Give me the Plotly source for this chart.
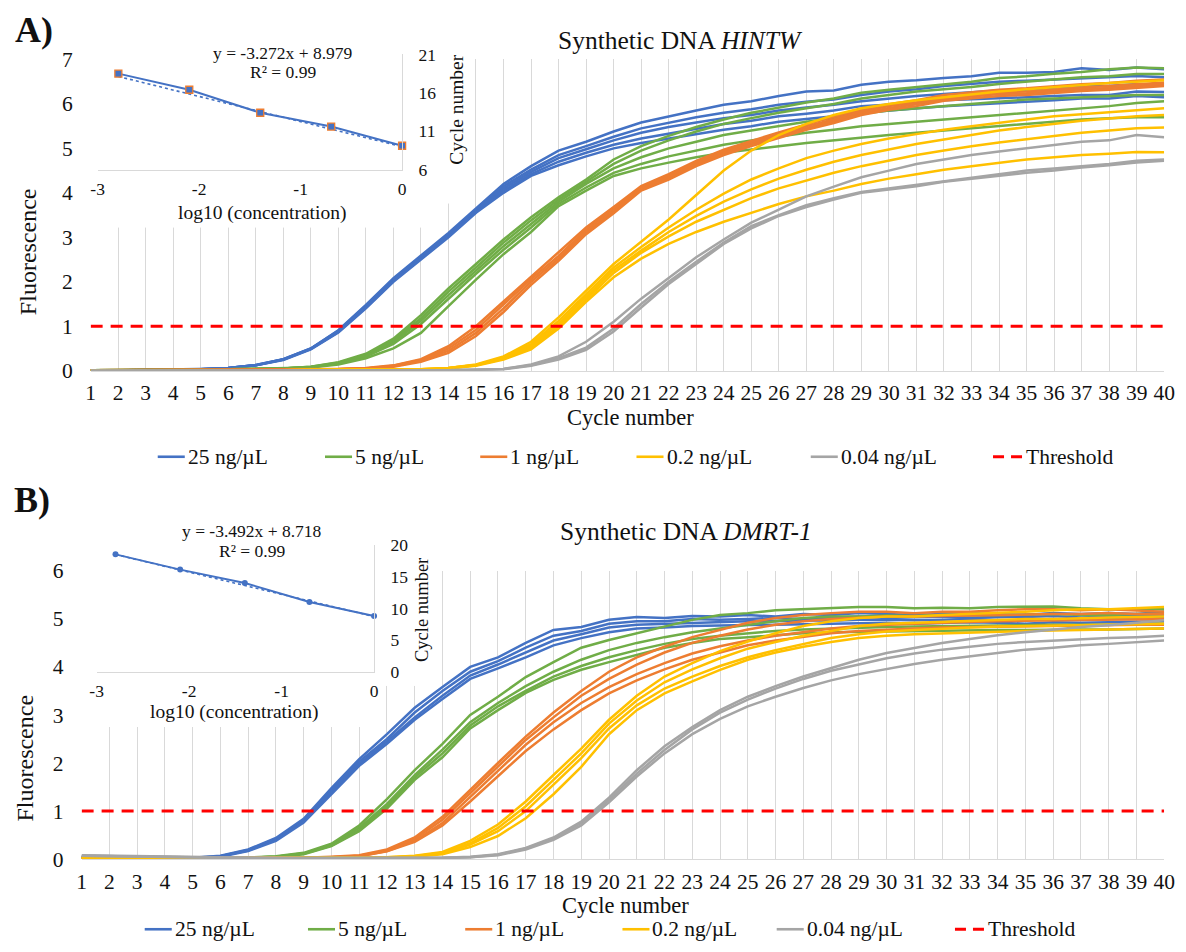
import numpy as np
import plotly.graph_objects as go

W, H = 1186, 952
FONT = "Liberation Serif, Times New Roman, DejaVu Serif, serif"
TXT = "#111111"

# ---------------- data ----------------
cycles = list(range(1, 41))
concentrations = [25, 5, 1, 0.2, 0.04]
series_names = ["25 ng/µL", "5 ng/µL", "1 ng/µL", "0.2 ng/µL", "0.04 ng/µL"]
series_colors = ["#4472C4", "#70AD47", "#ED7D31", "#FFC000", "#A5A5A5"]
threshold = 1.0

# Panel A  (Synthetic DNA HINTW) - fluorescence per cycle, replicates
a25_1 = [0.00,0.01,0.01,0.02,0.03,0.06,0.13,0.26,0.50,0.91, 1.48,2.08,2.60,3.10,3.65, 4.20,4.60,4.95,5.15,5.38, 5.58,5.72,5.85,5.98,6.06, 6.18,6.28,6.30,6.43,6.50, 6.53,6.58,6.62,6.70,6.70, 6.72,6.80,6.76,6.82,6.78]
a25_2 = [0.00,0.01,0.01,0.02,0.03,0.06,0.13,0.26,0.50,0.90, 1.46,2.06,2.57,3.07,3.62, 4.15,4.52,4.85,5.05,5.26, 5.45,5.58,5.70,5.80,5.88, 5.98,6.05,6.10,6.20,6.28, 6.33,6.40,6.45,6.50,6.52, 6.55,6.58,6.60,6.63,6.60]
a25_3 = [0.00,0.01,0.01,0.02,0.03,0.06,0.12,0.25,0.49,0.88, 1.44,2.04,2.55,3.05,3.60, 4.10,4.47,4.78,4.98,5.18, 5.35,5.48,5.58,5.68,5.75, 5.85,5.92,5.98,6.06,6.12, 6.18,6.22,6.26,6.30,6.32, 6.35,6.40,6.40,6.45,6.43]
a25_4 = [0.00,0.01,0.01,0.02,0.03,0.06,0.12,0.25,0.49,0.87, 1.42,2.02,2.52,3.02,3.57, 4.05,4.42,4.70,4.90,5.08, 5.22,5.33,5.44,5.55,5.62, 5.72,5.78,5.85,5.95,5.98, 6.02,6.08,6.10,6.12,6.15, 6.18,6.20,6.20,6.28,6.27]
a25_5 = [0.00,0.01,0.01,0.02,0.03,0.05,0.12,0.24,0.48,0.86, 1.40,2.00,2.50,3.00,3.55, 4.00,4.38,4.62,4.82,5.00, 5.12,5.22,5.32,5.42,5.50, 5.60,5.66,5.72,5.80,5.85, 5.90,5.95,5.98,6.02,6.05, 6.08,6.12,6.12,6.18,6.15]

a5_1 = [0.01,0.01,0.02,0.02,0.02,0.03,0.04,0.05,0.09,0.19, 0.38,0.72,1.25,1.85,2.40, 2.95,3.45,3.90,4.30,4.75, 5.05,5.28,5.48,5.65,5.80, 5.92,6.03,6.12,6.25,6.32, 6.38,6.45,6.50,6.58,6.62, 6.68,6.72,6.78,6.82,6.80]
a5_2 = [0.01,0.01,0.02,0.02,0.02,0.03,0.04,0.05,0.09,0.18, 0.36,0.68,1.18,1.78,2.32, 2.88,3.38,3.85,4.25,4.65, 4.95,5.18,5.38,5.55,5.68, 5.80,5.90,6.00,6.12,6.20, 6.28,6.33,6.38,6.45,6.50, 6.55,6.60,6.62,6.67,6.67]
a5_3 = [0.01,0.01,0.02,0.02,0.02,0.03,0.04,0.05,0.08,0.17, 0.34,0.64,1.12,1.70,2.25, 2.80,3.30,3.80,4.20,4.55, 4.80,5.00,5.15,5.30,5.40, 5.50,5.60,5.68,5.78,5.85, 5.90,5.95,6.00,6.05,6.10, 6.12,6.15,6.18,6.20,6.20]
a5_4 = [0.01,0.01,0.02,0.02,0.02,0.03,0.04,0.05,0.08,0.16, 0.32,0.60,1.05,1.62,2.18, 2.72,3.22,3.75,4.12,4.45, 4.65,4.82,4.95,5.08,5.18, 5.27,5.35,5.42,5.50,5.55, 5.60,5.65,5.70,5.75,5.80, 5.85,5.90,5.95,6.02,6.06]
a5_5 = [0.01,0.01,0.02,0.02,0.02,0.03,0.04,0.05,0.07,0.14, 0.28,0.50,0.85,1.45,2.05, 2.62,3.12,3.70,4.05,4.38, 4.55,4.68,4.80,4.90,4.98, 5.05,5.12,5.18,5.25,5.30, 5.35,5.40,5.45,5.50,5.55, 5.60,5.65,5.68,5.70,5.70]

a1_1 = [0.01,0.01,0.01,0.02,0.02,0.02,0.02,0.03,0.03,0.04, 0.06,0.12,0.26,0.55,1.00, 1.55,2.12,2.65,3.22,3.68, 4.15,4.42,4.72,4.97,5.17, 5.36,5.54,5.70,5.87,5.99, 6.08,6.20,6.26,6.32,6.35, 6.40,6.44,6.47,6.52,6.55]
a1_2 = [0.01,0.01,0.01,0.02,0.02,0.02,0.02,0.03,0.03,0.04, 0.05,0.11,0.24,0.50,0.92, 1.48,2.06,2.58,3.17,3.63, 4.12,4.38,4.68,4.93,5.13, 5.32,5.50,5.65,5.83,5.95, 6.03,6.15,6.20,6.26,6.28, 6.33,6.37,6.40,6.44,6.48]
a1_3 = [0.01,0.01,0.01,0.01,0.02,0.02,0.02,0.02,0.03,0.03, 0.05,0.10,0.22,0.45,0.85, 1.40,2.00,2.52,3.12,3.58, 4.08,4.34,4.64,4.89,5.09, 5.28,5.46,5.61,5.79,5.91, 5.99,6.11,6.16,6.22,6.24, 6.29,6.33,6.36,6.40,6.44]
a1_4 = [0.01,0.01,0.01,0.01,0.02,0.02,0.02,0.02,0.03,0.03, 0.05,0.09,0.20,0.40,0.78, 1.32,1.93,2.47,3.07,3.54, 4.05,4.30,4.60,4.85,5.05, 5.24,5.42,5.57,5.75,5.87, 5.95,6.07,6.12,6.18,6.20, 6.25,6.29,6.32,6.36,6.40]

a02_1 = [0.00,0.00,0.01,0.01,0.01,0.01,0.01,0.01,0.02,0.02, 0.02,0.02,0.03,0.06,0.14, 0.32,0.65,1.20,1.80,2.40, 2.90,3.40,3.95,4.50,4.95, 5.30,5.55,5.75,5.90,6.00, 6.08,6.15,6.22,6.28,6.33, 6.38,6.42,6.47,6.50,6.53]
a02_2 = [0.00,0.00,0.01,0.01,0.01,0.01,0.01,0.01,0.02,0.02, 0.02,0.02,0.03,0.06,0.13, 0.30,0.60,1.12,1.72,2.32, 2.78,3.22,3.62,3.98,4.30, 4.55,4.78,4.95,5.10,5.22, 5.32,5.42,5.50,5.58,5.65, 5.72,5.77,5.82,5.86,5.90]
a02_3 = [0.00,0.00,0.01,0.01,0.01,0.01,0.01,0.01,0.02,0.02, 0.02,0.02,0.03,0.06,0.13, 0.28,0.56,1.06,1.66,2.26, 2.70,3.12,3.48,3.80,4.08, 4.32,4.52,4.70,4.85,4.98, 5.10,5.20,5.30,5.40,5.48, 5.55,5.62,5.67,5.72,5.75]
a02_4 = [0.00,0.00,0.00,0.01,0.01,0.01,0.01,0.01,0.01,0.02, 0.02,0.02,0.02,0.05,0.12, 0.27,0.52,1.00,1.60,2.20, 2.65,3.02,3.35,3.62,3.88, 4.10,4.28,4.45,4.60,4.72, 4.85,4.95,5.05,5.13,5.20, 5.28,5.35,5.40,5.45,5.47]
a02_5 = [0.00,0.00,0.00,0.01,0.01,0.01,0.01,0.01,0.01,0.02, 0.02,0.02,0.02,0.05,0.11, 0.25,0.48,0.95,1.55,2.10, 2.52,2.85,3.12,3.35,3.55, 3.75,3.92,4.05,4.20,4.32, 4.42,4.52,4.60,4.68,4.75, 4.80,4.85,4.88,4.92,4.91]

a004_1 = [0.00,0.00,0.00,0.00,0.01,0.01,0.01,0.01,0.01,0.01, 0.01,0.01,0.01,0.01,0.02, 0.04,0.14,0.32,0.65,1.10, 1.62,2.08,2.55,2.95,3.33, 3.62,3.92,4.14,4.35,4.50, 4.65,4.75,4.85,4.93,5.00, 5.08,5.15,5.18,5.30,5.25]
a004_2 = [0.00,0.00,0.00,0.00,0.00,0.01,0.01,0.01,0.01,0.01, 0.01,0.01,0.01,0.01,0.02, 0.04,0.12,0.28,0.52,0.95, 1.50,2.00,2.45,2.88,3.25, 3.50,3.72,3.88,4.02,4.10, 4.18,4.27,4.35,4.42,4.50, 4.55,4.60,4.65,4.72,4.75]
a004_3 = [0.00,0.00,0.00,0.00,0.00,0.00,0.01,0.01,0.01,0.01, 0.01,0.01,0.01,0.01,0.02, 0.03,0.11,0.25,0.47,0.88, 1.42,1.95,2.40,2.85,3.20, 3.48,3.68,3.85,4.00,4.08, 4.15,4.25,4.32,4.38,4.45, 4.50,4.57,4.62,4.68,4.72]

# Panel B  (Synthetic DNA DMRT-1)
b25_1 = [0.06,0.05,0.04,0.03,0.03,0.07,0.20,0.44,0.84,1.48, 2.08,2.60,3.15,3.58,4.00, 4.20,4.50,4.77,4.83,4.98, 5.04,5.02,5.06,5.05,5.08, 5.05,5.10,5.08,5.12,5.10, 5.08,5.10,5.12,5.10,5.08, 5.12,5.10,5.12,5.10,5.15]
b25_2 = [0.05,0.04,0.04,0.03,0.03,0.06,0.19,0.42,0.81,1.44, 2.03,2.50,3.05,3.50,3.90, 4.12,4.40,4.65,4.75,4.90, 4.95,4.95,5.00,4.98,5.00, 5.02,5.00,5.03,5.05,5.02, 5.03,5.05,5.02,5.05,5.04, 5.06,5.03,5.05,5.06,5.08]
b25_3 = [0.05,0.04,0.03,0.03,0.02,0.06,0.18,0.40,0.78,1.40, 1.98,2.45,2.95,3.40,3.82, 4.05,4.30,4.55,4.68,4.82, 4.88,4.90,4.92,4.93,4.95, 4.95,4.97,4.96,4.98,4.98, 4.97,4.98,5.00,4.98,4.97, 5.00,4.98,5.00,5.00,5.02]
b25_4 = [0.04,0.04,0.03,0.03,0.02,0.05,0.17,0.38,0.76,1.36, 1.94,2.40,2.90,3.33,3.75, 3.97,4.20,4.45,4.60,4.72, 4.80,4.82,4.85,4.86,4.87, 4.88,4.90,4.90,4.92,4.92, 4.90,4.92,4.93,4.92,4.90, 4.93,4.92,4.93,4.94,4.95]

b5_1 = [0.03,0.03,0.02,0.02,0.02,0.02,0.03,0.06,0.13,0.32, 0.70,1.25,1.85,2.40,3.00, 3.38,3.79,4.10,4.40,4.56, 4.70,4.83,4.98,5.08,5.12, 5.18,5.20,5.22,5.25,5.25, 5.22,5.23,5.22,5.25,5.25, 5.26,5.22,5.20,5.20,5.20]
b5_2 = [0.03,0.02,0.02,0.02,0.02,0.02,0.03,0.05,0.12,0.30, 0.65,1.15,1.75,2.28,2.85, 3.25,3.60,3.90,4.15,4.35, 4.50,4.62,4.72,4.80,4.88, 4.95,5.02,5.05,5.05,5.07, 5.06,5.08,5.07,5.08,5.10, 5.10,5.08,5.08,5.10,5.10]
b5_3 = [0.02,0.02,0.02,0.02,0.02,0.02,0.03,0.05,0.11,0.28, 0.60,1.10,1.70,2.20,2.78, 3.18,3.50,3.80,4.02,4.20, 4.35,4.48,4.58,4.65,4.70, 4.75,4.78,4.80,4.82,4.83, 4.84,4.85,4.86,4.87,4.87, 4.88,4.88,4.88,4.90,4.90]
b5_4 = [0.02,0.02,0.02,0.02,0.01,0.02,0.02,0.04,0.10,0.27, 0.58,1.05,1.65,2.12,2.72, 3.10,3.46,3.73,3.94,4.10, 4.25,4.40,4.50,4.58,4.62, 4.66,4.70,4.72,4.73,4.74, 4.75,4.76,4.76,4.77,4.77, 4.78,4.78,4.78,4.79,4.80]

b1_1 = [0.03,0.03,0.02,0.02,0.02,0.02,0.02,0.03,0.03,0.05, 0.08,0.20,0.45,0.88,1.45, 2.00,2.55,3.05,3.50,3.90, 4.20,4.42,4.62,4.77,4.92, 5.02,5.08,5.12,5.15,5.15, 5.12,5.15,5.15,5.18,5.20, 5.20,5.18,5.20,5.18,5.15]
b1_2 = [0.03,0.02,0.02,0.02,0.02,0.02,0.02,0.02,0.03,0.04, 0.07,0.18,0.42,0.82,1.38, 1.92,2.48,2.95,3.40,3.75, 4.05,4.30,4.50,4.65,4.78, 4.88,4.95,5.00,5.02,5.05, 5.05,5.06,5.08,5.08,5.10, 5.10,5.10,5.12,5.10,5.10]
b1_3 = [0.02,0.02,0.02,0.02,0.02,0.02,0.02,0.02,0.03,0.04, 0.06,0.17,0.38,0.75,1.30, 1.85,2.38,2.85,3.25,3.58, 3.85,4.08,4.28,4.43,4.55, 4.65,4.73,4.80,4.85,4.88, 4.90,4.92,4.94,4.95,4.96, 4.97,4.98,4.99,5.00,5.00]
b1_4 = [0.02,0.02,0.02,0.02,0.02,0.02,0.02,0.02,0.02,0.03, 0.06,0.16,0.36,0.70,1.20, 1.72,2.25,2.70,3.10,3.45, 3.72,3.95,4.15,4.30,4.45, 4.55,4.62,4.70,4.75,4.78, 4.80,4.82,4.83,4.84,4.85, 4.86,4.86,4.87,4.88,4.88]

b02_1 = [0.02,0.02,0.02,0.02,0.02,0.02,0.02,0.02,0.02,0.02, 0.03,0.04,0.07,0.15,0.38, 0.72,1.20,1.75,2.30,2.90, 3.40,3.80,4.08,4.33,4.53, 4.70,4.85,4.95,5.02,5.05, 5.05,5.08,5.10,5.12,5.15, 5.18,5.20,5.20,5.22,5.25]
b02_2 = [0.02,0.02,0.02,0.02,0.02,0.02,0.02,0.02,0.02,0.02, 0.03,0.04,0.06,0.13,0.33, 0.65,1.10,1.65,2.20,2.82, 3.30,3.68,3.95,4.18,4.38, 4.52,4.65,4.75,4.85,4.90, 4.92,4.95,4.97,4.98,5.00, 5.00,5.02,5.03,5.04,5.05]
b02_3 = [0.02,0.02,0.02,0.02,0.02,0.02,0.02,0.02,0.02,0.02, 0.03,0.03,0.06,0.12,0.30, 0.58,1.00,1.55,2.10,2.72, 3.20,3.55,3.80,4.02,4.20, 4.35,4.48,4.60,4.68,4.74, 4.77,4.80,4.82,4.84,4.85, 4.86,4.87,4.88,4.89,4.90]
b02_4 = [0.02,0.02,0.02,0.02,0.02,0.02,0.02,0.02,0.02,0.02, 0.02,0.03,0.05,0.10,0.25, 0.48,0.85,1.35,1.92,2.60, 3.10,3.45,3.70,3.94,4.15, 4.30,4.42,4.52,4.60,4.65, 4.68,4.70,4.72,4.74,4.75, 4.76,4.77,4.78,4.79,4.80]

b004_1 = [0.08,0.07,0.06,0.05,0.04,0.03,0.03,0.02,0.02,0.02, 0.02,0.02,0.02,0.03,0.05, 0.10,0.23,0.45,0.78,1.28, 1.85,2.35,2.75,3.10,3.38, 3.60,3.80,3.98,4.15,4.29, 4.40,4.50,4.58,4.66,4.72, 4.78,4.83,4.87,4.92,4.97]
b004_2 = [0.07,0.06,0.05,0.05,0.04,0.03,0.03,0.02,0.02,0.02, 0.02,0.02,0.02,0.03,0.04, 0.09,0.22,0.43,0.75,1.23, 1.78,2.27,2.70,3.05,3.32, 3.55,3.75,3.92,4.05,4.18, 4.28,4.36,4.42,4.48,4.52, 4.55,4.58,4.60,4.62,4.65]
b004_3 = [0.07,0.06,0.05,0.04,0.04,0.03,0.02,0.02,0.02,0.02, 0.02,0.02,0.02,0.02,0.04, 0.08,0.20,0.40,0.70,1.18, 1.72,2.20,2.60,2.92,3.18, 3.38,3.56,3.72,3.85,3.96, 4.06,4.15,4.22,4.30,4.36, 4.40,4.45,4.48,4.52,4.55]

# Standard-curve insets: Ct per concentration and reported linear fits
A_ct = [9.1, 11.6, 13.4, 16.4, 18.5]
B_ct = [8.8, 11.0, 14.0, 16.1, 18.5]
A_fit_slope, A_fit_intercept = -3.272, 8.979
B_fit_slope, B_fit_intercept = -3.492, 8.718
A_eq_text = ["y = -3.272x + 8.979", "R² = 0.99"]
B_eq_text = ["y = -3.492x + 8.718", "R² = 0.99"]

A_curves = [[a25_1, a25_2, a25_3, a25_4, a25_5],
            [a5_1, a5_2, a5_3, a5_4, a5_5],
            [a1_1, a1_2, a1_3, a1_4],
            [a02_1, a02_2, a02_3, a02_4, a02_5],
            [a004_1, a004_2, a004_3]]
B_curves = [[b25_1, b25_2, b25_3, b25_4],
            [b5_1, b5_2, b5_3, b5_4],
            [b1_1, b1_2, b1_3, b1_4],
            [b02_1, b02_2, b02_3, b02_4],
            [b004_1, b004_2, b004_3]]
for grp in A_curves + B_curves:
    for c in grp:
        assert len(c) == 40

inset_x = list(np.log10(np.array(concentrations) / concentrations[0]))

# ---------------- layout helpers ----------------
# The photographed page shows the figure slightly inset/shrunk; targets below are
# given in screenshot pixels and mapped back to figure pixels.
OX, SX, OY, SY = 7.5, 0.9833, 11.6, 0.974

def RX(t):
    return (t - OX) / SX

def RY(t):
    return (t - OY) / SY

def dx(a, b):
    return [max(0.0, RX(a) / W), min(1.0, RX(b) / W)]

def dy(top, bottom):
    return [max(0.0, 1 - RY(bottom) / H), min(1.0, 1 - RY(top) / H)]

def px(x):
    return RX(x) / W

def py(y, clamp=None):
    v = RY(y)
    if clamp is not None:
        v = min(v, clamp)
    return 1 - v / H

fig = go.Figure()

def add_panel(curves, xa, ya):
    for color, grp in zip(series_colors, curves):
        for c in grp:
            fig.add_trace(go.Scatter(x=cycles, y=c, mode="lines",
                                     line=dict(color=color, width=2.5),
                                     xaxis=xa, yaxis=ya, showlegend=False,
                                     hoverinfo="skip"))
    fig.add_trace(go.Scatter(x=cycles, y=[threshold] * len(cycles), mode="lines",
                             line=dict(color="#FF0000", width=3, dash="12px,8px"),
                             xaxis=xa, yaxis=ya, showlegend=False, hoverinfo="skip"))

def add_inset(ct, slope, intercept, xa, ya, square):
    xs = [min(inset_x), max(inset_x)]
    fig.add_trace(go.Scatter(x=xs, y=[slope * v + intercept for v in xs], mode="lines",
                             line=dict(color="#4472C4", width=1.6, dash="dot"),
                             xaxis=xa, yaxis=ya, showlegend=False, hoverinfo="skip"))
    if square:
        mk = dict(symbol="square", size=7, color="#4472C4",
                  line=dict(color="#ED7D31", width=1.3))
    else:
        mk = dict(symbol="circle", size=6, color="#4472C4")
    fig.add_trace(go.Scatter(x=inset_x, y=ct, mode="lines+markers",
                             line=dict(color="#4472C4", width=2), marker=mk,
                             cliponaxis=False, xaxis=xa, yaxis=ya,
                             showlegend=False, hoverinfo="skip"))

def add_box(xa, ya):
    fig.add_trace(go.Scatter(x=[None], y=[None], xaxis=xa, yaxis=ya,
                             showlegend=False, hoverinfo="skip"))

# subplot order: main A (x,y), boxes A (x2,x3), inset A (x4),
# main B (x5), boxes B (x6,x7), inset B (x8)
add_panel(A_curves, "x", "y")
add_box("x2", "y2")
add_box("x3", "y3")
add_inset(A_ct, A_fit_slope, A_fit_intercept, "x4", "y4", True)
add_panel(B_curves, "x5", "y5")
add_box("x6", "y6")
add_box("x7", "y7")
add_inset(B_ct, B_fit_slope, B_fit_intercept, "x8", "y8", False)

tickfont = dict(family=FONT, size=21.5, color=TXT)
insfont = dict(family=FONT, size=17.5, color=TXT)
GRID = "#D9D9D9"

def main_x(domain, anchor):
    return dict(domain=domain, anchor=anchor, range=[1, 40], tickvals=cycles,
                tickangle=0, showgrid=True, gridcolor=GRID, gridwidth=1,
                showline=True, linecolor=GRID, linewidth=1, zeroline=False,
                ticks="", tickfont=tickfont, ticklabelstandoff=3,
                ticklabeloverflow="allow",
                layer="below traces", fixedrange=True)

def main_y(domain, anchor, top):
    return dict(domain=domain, anchor=anchor, range=[0, top], dtick=1,
                showgrid=False, zeroline=False, showline=False, ticks="",
                tickfont=tickfont, ticklabelstandoff=17, layer="below traces",
                fixedrange=True)

def box_ax(domain, anchor):
    return dict(domain=domain, anchor=anchor, range=[0, 1], showgrid=False,
                zeroline=False, showline=False, showticklabels=False, ticks="",
                fixedrange=True)

def ins_x(domain, anchor):
    return dict(domain=domain, anchor=anchor, range=[-3, 0],
                tickvals=[-3, -2, -1, 0], ticktext=["-3", "-2", "-1", "0"],
                showgrid=False, zeroline=False, showline=True, linecolor=GRID,
                linewidth=1, ticks="", tickfont=insfont, ticklabelstandoff=3,
                fixedrange=True)

def ins_y(domain, anchor, rng, vals):
    return dict(domain=domain, anchor=anchor, range=rng, tickvals=vals,
                side="right", showgrid=False, zeroline=False, showline=True,
                linecolor=GRID, linewidth=1, ticks="", tickfont=insfont,
                ticklabelstandoff=12, fixedrange=True)

X40_LIMIT = 1175  # keep the "40" tick label inside the figure
xA = [RX(91) / W, X40_LIMIT / W]
xB = [RX(82) / W, X40_LIMIT / W]

layout = dict(
    width=W, height=H, autosize=False,
    margin=dict(l=0, r=0, t=0, b=0),
    paper_bgcolor="white", plot_bgcolor="white",
    font=dict(family=FONT, color=TXT),
    showlegend=False,
    xaxis=main_x(xA, "y"),
    yaxis=main_y(dy(60, 371), "x", 7),
    xaxis2=box_ax(dx(76, 440), "y2"),
    yaxis2=box_ax(dy(12, 228), "x2"),
    xaxis3=box_ax(dx(440, 470), "y3"),
    yaxis3=box_ax(dy(12, 204), "x3"),
    xaxis4=ins_x(dx(98, 402), "y4"),
    yaxis4=ins_y(dy(55, 170), "x4", [6, 21], [6, 11, 16, 21]),
    xaxis5=main_x(xB, "y5"),
    yaxis5=main_y(dy(571, 859), "x5", 6),
    xaxis6=box_ax(dx(76, 380), "y6"),
    yaxis6=box_ax(dy(490, 727), "x6"),
    xaxis7=box_ax(dx(380, 436), "y7"),
    yaxis7=box_ax(dy(490, 686), "x7"),
    xaxis8=ins_x(dx(97, 374), "y8"),
    yaxis8=ins_y(dy(545, 672), "x8", [0, 20], [0, 5, 10, 15, 20]),
)
fig.update_layout(**layout)

ann = []
def text(x, y, t, size, angle=0, xanchor="center", clamp=None):
    ann.append(dict(x=px(x), y=py(y, clamp), xref="paper", yref="paper", text=t,
                    showarrow=False, xanchor=xanchor, yanchor="middle",
                    textangle=angle, font=dict(family=FONT, size=size, color=TXT)))

# panel labels and titles
text(34, 31, "<b>A)</b>", 36)
text(32, 500, "<b>B)</b>", 36)
text(680, 41, "Synthetic DNA <i>HINTW</i>", 25.5)
text(685, 532, "Synthetic DNA <i>DMRT-1</i>", 25.5)
# main axis titles
text(630, 418, "Cycle number", 22.5)
text(625, 906, "Cycle number", 22.5, clamp=918)
text(28, 252, "Fluorescence", 24, -90)
text(25, 758, "Fluorescence", 24, -90)
# inset A
text(283, 54, A_eq_text[0], 17.5)
text(283, 73, A_eq_text[1], 17.5)
text(262, 213, "log10 (concentration)", 19.5)
text(456, 110, "Cycle number", 19.5, -90)
# inset B
text(252, 531, B_eq_text[0], 17.5)
text(252, 551, B_eq_text[1], 17.5)
text(234, 712, "log10 (concentration)", 19.5)
text(422, 610, "Cycle number", 18.5, -90)

# legends (manual, Excel-like spacing)
shapes = []
legend_labels = series_names + ["Threshold"]
legend_colors = series_colors + ["#FF0000"]
def legend(xs, y, clamp=None):
    yy = py(y, clamp)
    for lab, col, x in zip(legend_labels, legend_colors, xs):
        if lab == "Threshold":
            shapes.append(dict(type="line", xref="paper", yref="paper",
                               x0=px(x - 31), x1=px(x - 1), y0=yy, y1=yy,
                               line=dict(color=col, width=3, dash="11px,7px")))
        else:
            shapes.append(dict(type="line", xref="paper", yref="paper",
                               x0=px(x - 28), x1=px(x - 1), y0=yy, y1=yy,
                               line=dict(color=col, width=2.6)))
        text(x, y, lab, 21.5, xanchor="left", clamp=clamp)

legend([186, 353, 508, 664, 838, 1023], 457)
legend([173, 336, 493, 650, 804, 985], 940, clamp=942)

fig.update_layout(annotations=ann, shapes=shapes)
fig.write_html("out.html")
